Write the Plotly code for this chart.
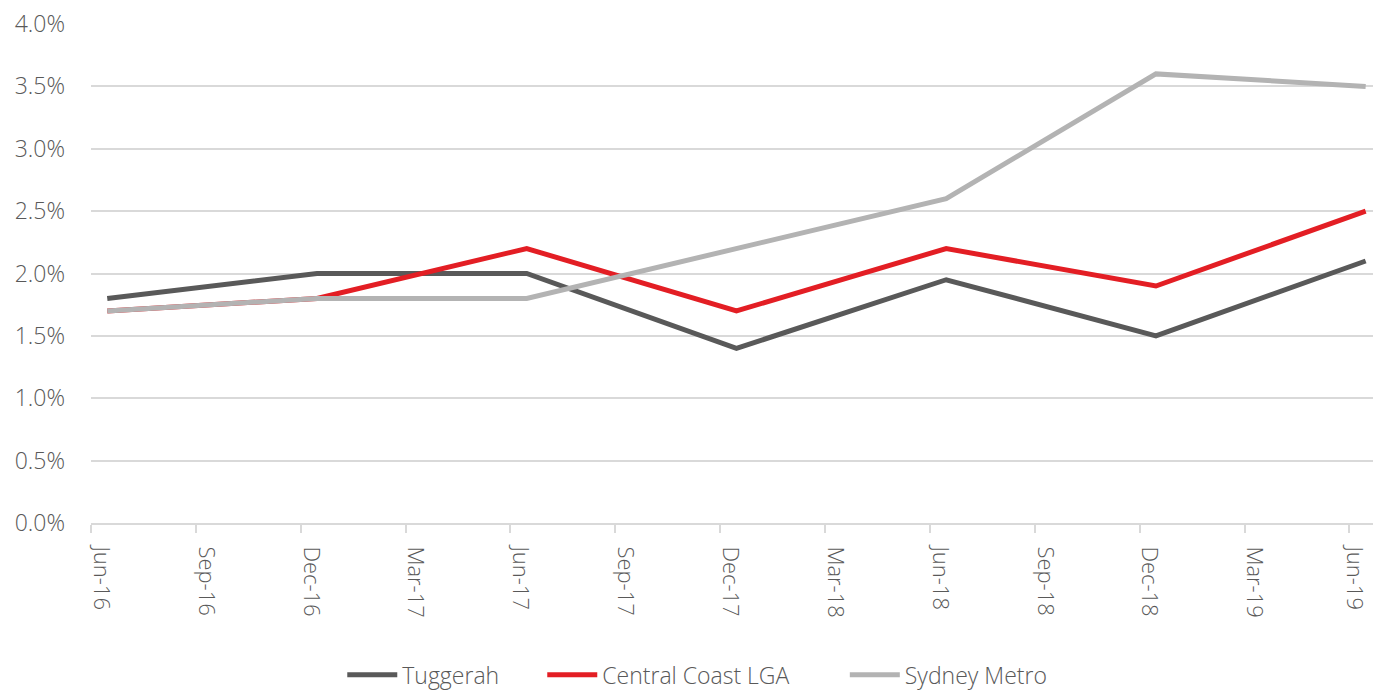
import plotly.graph_objects as go

categories = ["Jun-16", "Sep-16", "Dec-16", "Mar-17", "Jun-17", "Sep-17", "Dec-17",
              "Mar-18", "Jun-18", "Sep-18", "Dec-18", "Mar-19", "Jun-19"]
point_labels = ["Jun-16", "Dec-16", "Jun-17", "Dec-17", "Jun-18", "Dec-18", "Jun-19"]
tuggerah = [1.8, 2.0, 2.0, 1.4, 1.95, 1.5, 2.1]
central_coast = [1.7, 1.8, 2.2, 1.7, 2.2, 1.9, 2.5]
sydney_metro = [1.7, 1.8, 1.8, 2.2, 2.6, 3.6, 3.5]
y_ticks = [0.0, 0.5, 1.0, 1.5, 2.0, 2.5, 3.0, 3.5, 4.0]
y_tick_labels = ["0.0%", "0.5%", "1.0%", "1.5%", "2.0%", "2.5%", "3.0%", "3.5%", "4.0%"]

series = [
    ("Tuggerah", tuggerah, "#595959", "legend", 0.196),
    ("Central Coast LGA", central_coast, "#e31e24", "legend2", 0.352),
    ("Sydney Metro", sydney_metro, "#b3b3b3", "legend3", 0.588),
]

xpos = [categories.index(c) for c in point_labels]

font_family = "Open Sans"
legend_font = dict(family=font_family, size=23, color="#595959", weight=300)

fig = go.Figure()
legend_layout = {}
for name, vals, color, leg, lx in series:
    fig.add_trace(go.Scatter(x=xpos, y=vals, name=name, mode="lines",
                             line=dict(color=color, width=5), legend=leg))
    legend_layout[leg] = dict(orientation="h", x=lx, xanchor="left", y=-0.304,
                              yanchor="middle", font=legend_font, itemwidth=50,
                              bgcolor="rgba(0,0,0,0)")

n = len(categories)
label_pos = [i - 0.06 if i < n - 1 else i - 0.11 for i in range(n)]

fig.update_layout(
    width=1373, height=691,
    margin=dict(l=91, r=0, t=24, b=168, autoexpand=False),
    paper_bgcolor="white", plot_bgcolor="white",
    font=dict(family=font_family, size=23, color="#595959", weight=300),
    showlegend=True,
    xaxis=dict(
        range=[-0.155, 12.07],
        tickmode="array", tickvals=label_pos,
        ticktext=categories,
        tickfont=dict(size=22),
        tickangle=90, ticks="", showgrid=False, zeroline=False,
        showline=True, linecolor="#d9d9d9", linewidth=2,
        ticklabelstandoff=17, ticklabeloverflow="allow",
        minor=dict(tick0=-0.155, dtick=1, ticks="outside", ticklen=8,
                   tickcolor="#d9d9d9", tickwidth=2, showgrid=False),
    ),
    yaxis=dict(
        range=[0, 4.0], tickmode="array", tickvals=y_ticks, ticktext=y_tick_labels,
        showgrid=True, gridcolor="#d9d9d9", gridwidth=1.5,
        zeroline=False, showline=False, ticks="",
        ticklabelstandoff=25,
    ),
    **legend_layout,
)

fig.write_html("out.html")
